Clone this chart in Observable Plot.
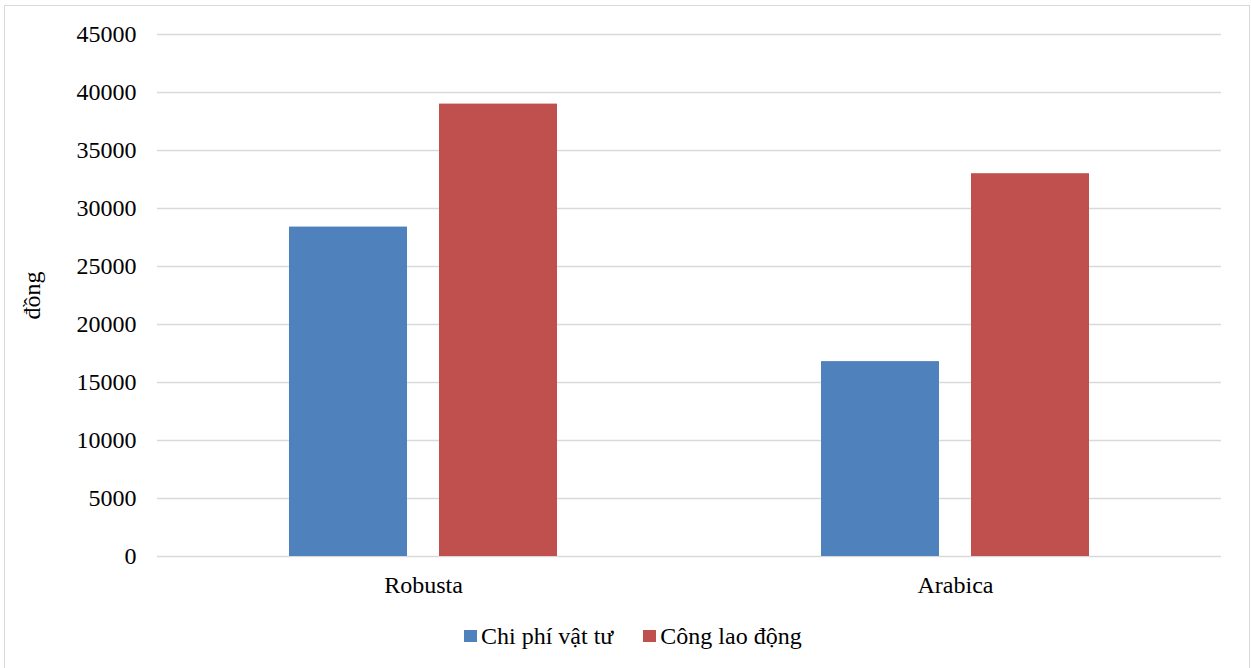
<!DOCTYPE html>
<html>
<head>
<meta charset="utf-8">
<script src="https://cdn.jsdelivr.net/npm/d3@7"></script>
<script src="https://cdn.jsdelivr.net/npm/@observablehq/plot@0.6"></script>
<style>
  html, body { margin: 0; padding: 0; background: #fff; overflow: hidden; }
  body { width: 1251px; height: 668px; position: relative; font-family: "Liberation Serif", "Times New Roman", serif; }
  #frame { position: absolute; left: 4px; top: 5px; width: 1246px; height: 700px; box-sizing: border-box; border: 1.5px solid #d9d9d9; }
  #chart { position: absolute; left: 0; top: 0; }
  #legend { position: absolute; left: 464px; top: 624px; display: flex; align-items: center; font-size: 24px; line-height: 24px; color: #000; }
  #legend .item { display: flex; align-items: center; margin-right: 30px; }
  #legend .sw { width: 13px; height: 12px; margin-right: 4px; }
</style>
</head>
<body>
<div id="frame"></div>
<div id="chart"></div>
<div id="legend"></div>
<script>
// Coffee varieties and the two cost components (đồng)
const categories = ["Robusta", "Arabica"];
const series = ["Chi phí vật tư", "Công lao động"];
const materialCost = [28400, 16800];
const laborCost = [39000, 33000];
const colors = ["#4F81BD", "#C0504D"];
const yTicks = [0, 5000, 10000, 15000, 20000, 25000, 30000, 35000, 40000, 45000];

const rows = categories.flatMap((cat, i) => [
  {cat, s: series[0], v: materialCost[i]},
  {cat, s: series[1], v: laborCost[i]}
]);

const chart = Plot.plot({
  width: 1251,
  height: 600,
  marginLeft: 157,
  marginRight: 30,
  marginTop: 34,
  marginBottom: 44,
  style: {fontFamily: "'Liberation Serif', 'Times New Roman', serif", fontSize: "24px", color: "#000", background: "transparent"},
  fx: {domain: categories, paddingInner: 0, paddingOuter: 0, label: null},
  x: {domain: series, paddingInner: 0.212, paddingOuter: 0.868, axis: null},
  y: {domain: [0, 45000]},
  color: {domain: series, range: colors},
  marks: [
    Plot.gridY(yTicks, {stroke: "#d9d9d9", strokeOpacity: 1, strokeWidth: 1.5}),
    Plot.barY(rows, {fx: "cat", x: "s", y: "v", fill: "s"}),
    Plot.axisY(yTicks, {tickSize: 0, tickPadding: 21, tickFormat: d => String(d), label: "đồng", labelAnchor: "center", labelArrow: "none", labelOffset: 135, fill: "#000"}),
    Plot.axisFx({anchor: "bottom", tickSize: 0, tickPadding: 19, label: null, fill: "#000"})
  ]
});
document.getElementById("chart").appendChild(chart);

// Legend row built from the same series and colours
const legend = document.getElementById("legend");
series.forEach((name, i) => {
  const item = document.createElement("div");
  item.className = "item";
  const sw = document.createElement("div");
  sw.className = "sw";
  sw.style.background = colors[i];
  const label = document.createElement("span");
  label.textContent = name;
  item.appendChild(sw);
  item.appendChild(label);
  legend.appendChild(item);
});
</script>
</body>
</html>
